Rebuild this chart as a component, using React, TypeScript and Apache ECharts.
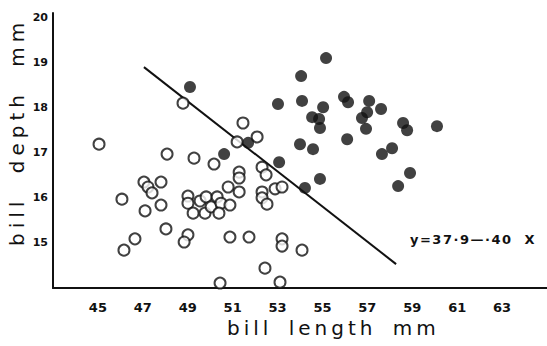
import React, { useEffect, useRef } from "react";
import * as echarts from "echarts";

// Filled circles (bill length, bill depth)
const filledX = [49.10, 55.16, 54.05, 53.02, 54.09, 55.03, 54.54, 54.85, 54.89, 55.96, 56.14, 57.08, 56.99, 56.76, 56.94, 57.61, 56.10, 54.00, 54.58, 57.65, 53.07, 54.89, 54.22, 51.69, 50.62, 58.59, 58.77, 60.10, 58.10, 58.90, 58.37];
const filledY = [18.46, 19.10, 18.70, 18.08, 18.15, 18.01, 17.79, 17.75, 17.55, 18.24, 18.12, 18.15, 17.90, 17.77, 17.53, 17.97, 17.30, 17.19, 17.08, 16.97, 16.79, 16.42, 16.22, 17.22, 16.97, 17.66, 17.50, 17.59, 17.10, 16.55, 16.26];

// Open circles
const openX = [48.79, 45.05, 48.08, 49.28, 46.07, 47.05, 47.23, 47.41, 47.81, 47.81, 47.10, 48.03, 46.65, 46.16, 49.01, 48.84, 51.46, 52.09, 51.20, 50.17, 51.29, 51.29, 52.31, 52.49, 50.80, 51.29, 52.89, 53.20, 52.31, 52.31, 52.53, 49.01, 49.01, 49.24, 49.55, 49.82, 49.77, 50.04, 50.31, 50.48, 50.39, 50.88, 50.88, 51.73, 53.20, 53.20, 54.09, 52.44, 50.44, 53.11];
const openY = [18.10, 17.19, 16.97, 16.88, 15.97, 16.35, 16.24, 16.11, 16.35, 15.84, 15.71, 15.31, 15.09, 14.84, 15.18, 15.02, 17.66, 17.35, 17.24, 16.75, 16.57, 16.44, 16.68, 16.51, 16.24, 16.13, 16.20, 16.24, 16.13, 16.00, 15.86, 16.04, 15.88, 15.66, 15.93, 16.02, 15.66, 15.80, 16.02, 15.88, 15.66, 15.84, 15.13, 15.13, 15.09, 14.93, 14.84, 14.44, 14.11, 14.13];

// Discriminant line endpoints as drawn
const lineX = [47.05, 58.28];
const lineY = [18.9, 14.53];

const xTicks = [45, 47, 49, 51, 53, 55, 57, 59, 61, 63];
const yTicks = [15, 16, 17, 18, 19, 20];

const xName = "bill length mm";
const yName = "bill depth mm";
const equation = "y=37·9—·40 X";

export default function App() {
  const ref = useRef<HTMLDivElement>(null);
  useEffect(() => {
    if (!ref.current) return;
    const chart = echarts.init(ref.current, null, { renderer: "svg" });
    const ink = "#111";
    const zip = (a: number[], b: number[]) => a.map((v, i) => [v, b[i]]);
    chart.setOption({
      animation: false,
      backgroundColor: "#fff",
      grid: { left: 53, right: 0, top: 13, bottom: 58 },
      xAxis: {
        type: "value",
        min: 43,
        max: 65,
        splitLine: { show: false },
        axisTick: { show: false },
        axisLine: { show: true, onZero: false, lineStyle: { color: ink, width: 2 } },
        axisLabel: {
          customValues: xTicks,
          margin: 13,
          color: ink,
          fontFamily: "DejaVu Sans",
          fontWeight: "bold",
          fontSize: 13,
        },
      },
      yAxis: {
        type: "value",
        min: 14,
        max: 20.1,
        splitLine: { show: false },
        axisTick: { show: false },
        axisLine: { show: true, onZero: false, lineStyle: { color: ink, width: 2 } },
        axisLabel: {
          customValues: yTicks,
          margin: 5,
          color: ink,
          fontFamily: "DejaVu Sans",
          fontWeight: "bold",
          fontSize: 11,
        },
      },
      series: [
        {
          type: "line",
          data: zip(lineX, lineY),
          symbol: "none",
          lineStyle: { color: ink, width: 2 },
          z: 1,
        },
        {
          type: "scatter",
          data: zip(openX, openY),
          symbol: "circle",
          symbolSize: 11,
          itemStyle: { color: "#fff", borderColor: ink, borderWidth: 2 },
          z: 2,
        },
        {
          type: "scatter",
          data: zip(filledX, filledY),
          symbol: "circle",
          symbolSize: 12,
          itemStyle: { color: ink },
          z: 3,
        },
      ],
      graphic: [
        {
          type: "text",
          x: 227,
          y: 328,
          style: {
            text: xName,
            fill: ink,
            font: "20px 'DejaVu Sans'",
            align: "left",
            verticalAlign: "middle",
          },
        },
        {
          type: "text",
          x: 17,
          y: 246,
          rotation: Math.PI / 2,
          style: {
            text: yName,
            fill: ink,
            font: "20px 'DejaVu Sans'",
            align: "left",
            verticalAlign: "middle",
          },
        },
        {
          type: "text",
          x: 410,
          y: 239,
          style: {
            text: equation,
            fill: ink,
            font: "bold 13px 'DejaVu Sans'",
            align: "left",
            verticalAlign: "middle",
          },
        },
      ],
    });
    const spacing: Record<string, [string, string]> = {
      [xName]: ["4px", "6px"],
      [yName]: ["5px", "12px"],
      [equation]: ["1.5px", "6px"],
    };
    ref.current.querySelectorAll("text").forEach((t) => {
      const s = spacing[t.textContent || ""];
      if (s) {
        t.setAttribute("letter-spacing", s[0]);
        t.setAttribute("word-spacing", s[1]);
      }
    });
    return () => chart.dispose();
  }, []);
  return (
    <div
      ref={ref}
      style={{ position: "fixed", left: 0, top: 0, width: 547, height: 346 }}
    />
  );
}
